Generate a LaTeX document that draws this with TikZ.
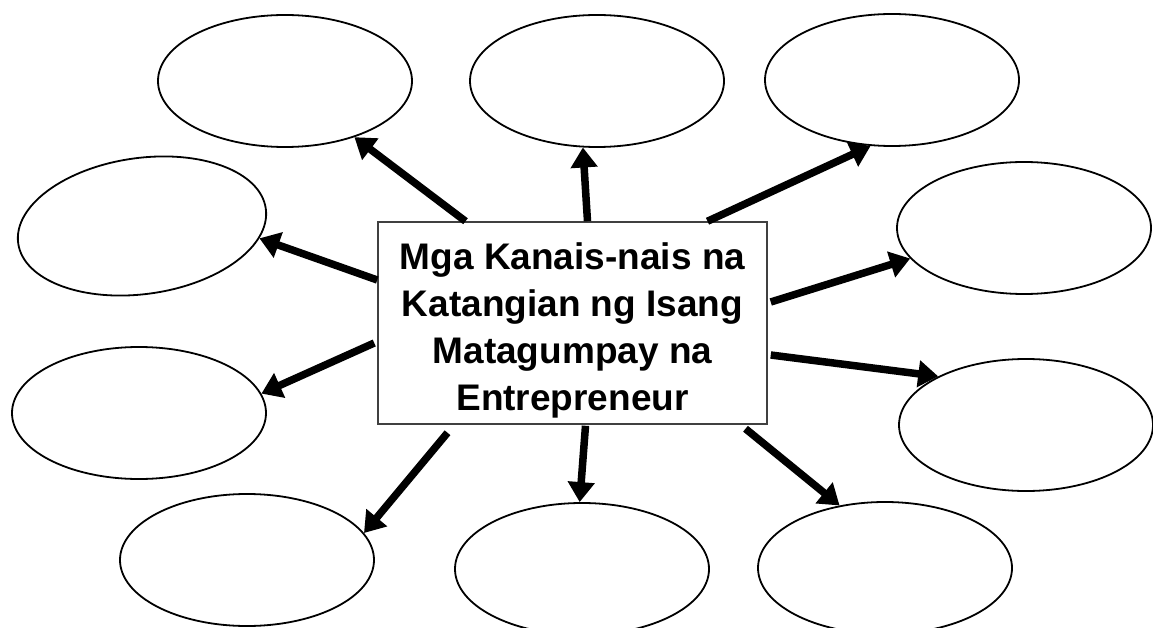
\documentclass[tikz,border=0pt]{standalone}
\usepackage{fontspec}
\setmainfont{Liberation Sans}
\usepackage{tikz}
\usetikzlibrary{
  arrows.meta,
  calc,
  shapes.geometric
}
\tikzset{
  bubble/.style={
    draw,
    ellipse,
    line width=1.8pt,
    minimum width=254pt,
    minimum height=132pt,
    inner sep=0pt},
  spoke/.style={
    -{Triangle[length=20pt,width=26pt]},
    line width=7.5pt}
  }

\begin{document}
\begin{tikzpicture}[x=1pt, y=-1pt]
  \useasboundingbox (0,0) rectangle (1153,628);
  \node[bubble] (tl) at (285,81) {};
  \node[bubble] (tm) at (597,81) {};
  \node[bubble] (tr) at (892,80) {};
  \node[bubble, minimum width=250pt, minimum height=136pt, rotate=8] (lu) at (142,226) {};
  \node[bubble] (ru) at (1024,228) {};
  \node[bubble] (ll) at (139,413) {};
  \node[bubble] (rl) at (1026,425) {};
  \node[bubble] (bl) at (247,560) {};
  \node[bubble] (bm) at (582,569) {};
  \node[bubble] (br) at (885,568) {};
  \node[draw=black!75, line width=1.5pt, minimum width=389pt, minimum height=202pt] (c) at (572.5,323) {};
  \node[font=\bfseries\fontsize{37}{47}\selectfont, align=center] (title) at ($(c.center)+(0,7)$)
    {Mga Kanais-nais na\\Katangian ng Isang\\Matagumpay na\\Entrepreneur};
  \path [spoke]
    ($(c.north)+(-107,0)$) edge[] (tl.-39)
    ($(c.north)+(15,0)$) edge[] (tm.-102)
    ($(c.north)+(135,0)$) edge[] (tr.-108)
    ($(c.west)+(0,-43)$) edge[] (lu.-14)
    ($(c.east)+(3,-21)$) edge[] (ru.195)
    ($(c.west)+(-3,20)$) edge[] (ll.9)
    ($(c.east)+(3,32)$) edge[] (rl.151)
    ($(c.south)+(-125,8)$) edge[] (bl.13)
    ($(c.south)+(13,1)$) edge[] (bm.92)
    ($(c.south)+(173,4)$) edge[] (br.126);
\end{tikzpicture}
\end{document}
